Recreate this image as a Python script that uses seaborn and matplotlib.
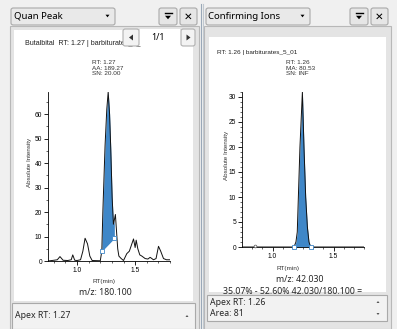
import numpy as np
import pandas as pd
import matplotlib
matplotlib.use("Agg")
import matplotlib.pyplot as plt
import seaborn as sns
from matplotlib.patches import Rectangle, FancyBboxPatch, Polygon
from matplotlib.ticker import MultipleLocator

# ---------------- data ----------------
quan_rt = [0.75, 0.80, 0.83, 0.853, 0.88, 0.92, 0.95, 0.963, 0.98, 1.00, 1.03, 1.05,
           1.069, 1.09, 1.11, 1.13, 1.20, 1.213, 1.222, 1.241, 1.256, 1.268, 1.280,
           1.290, 1.302, 1.313, 1.322, 1.330, 1.340, 1.350, 1.360, 1.38, 1.40, 1.428,
           1.45, 1.486, 1.50, 1.509, 1.523, 1.54, 1.558, 1.586, 1.61, 1.629, 1.658,
           1.68, 1.701, 1.72, 1.744, 1.77, 1.80]
quan_int = [0, 0.3, 0.5, 1.8, 0.3, 0.2, 0.5, 2.5, 0.3, 0.2, 0.5, 4,
            9.3, 7, 2, 0.2, 0.1, 4, 20, 47, 62, 69, 60,
            46, 26, 15, 17, 19, 12, 5, 2, 1, 0.2, 3,
            4, 9, 5.5, 8.5, 5, 2.5, 2, 1, 0.8, 1.5, 0.5,
            1, 6, 4, 1, 0.5, 0.5]
quan_peak_start = (1.213, 4.0)
quan_peak_end = (1.321, 9.3)

conf_rt = [0.75, 0.80, 0.854, 0.90, 1.00, 1.10, 1.15, 1.176, 1.192, 1.203, 1.212,
           1.225, 1.245, 1.258, 1.272, 1.286, 1.299, 1.313, 1.35, 1.45, 1.55, 1.65, 1.75]
conf_int = [0, 0, 0, 0, 0, 0, 0, 0, 1, 3, 10,
            20, 31, 20, 10, 4, 1, 0, 0, 0, 0, 0, 0]
conf_peak_start = (1.176, 0.0)
conf_peak_end = (1.313, 0.0)

quan_label = ["RT: 1.27", "AA: 189.27", "SN: 20.00"]
conf_label = ["RT: 1.26", "MA: 80.53", "SN: INF"]

# ---------------- figure ----------------
W, H = 397, 329
fig = plt.figure(figsize=(W / 100, H / 100), dpi=100)
fig.patch.set_facecolor("#f0f0f0")
UI = "Noto Sans"
PL = "Liberation Sans"
BLUE = "#3f87c8"


def fx(x):
    return x / W


def fy(y):
    return 1 - y / H


def rect(x0, y0, x1, y1, fc, ec="none", lw=0.8, z=1, rounded=False):
    if rounded:
        p = FancyBboxPatch((fx(x0), fy(y1)), fx(x1) - fx(x0), fy(y0) - fy(y1),
                           boxstyle="round,pad=0,rounding_size=0.006",
                           transform=fig.transFigure, fc=fc, ec=ec, lw=lw, zorder=z)
    else:
        p = Rectangle((fx(x0), fy(y1)), fx(x1) - fx(x0), fy(y0) - fy(y1),
                      transform=fig.transFigure, fc=fc, ec=ec, lw=lw, zorder=z)
    fig.add_artist(p)
    return p


def txt(x, y, s, size=6, ha="left", va="center", family=UI, z=5, **kw):
    return fig.text(fx(x), fy(y), s, fontsize=size, ha=ha, va=va, family=family, zorder=z, **kw)


def tri(cx, cy, w, h, down=True, z=6, color="black"):
    if down:
        pts = [(cx - w / 2, cy - h / 2), (cx + w / 2, cy - h / 2), (cx, cy + h / 2)]
    else:
        pts = [(cx - w / 2, cy + h / 2), (cx + w / 2, cy + h / 2), (cx, cy - h / 2)]
    fig.add_artist(Polygon([(fx(a), fy(b)) for a, b in pts], closed=True,
                           transform=fig.transFigure, fc=color, ec="none", zorder=z))


def tri_lr(cx, cy, w, h, left=True, z=6):
    if left:
        pts = [(cx + w / 2, cy - h / 2), (cx + w / 2, cy + h / 2), (cx - w / 2, cy)]
    else:
        pts = [(cx - w / 2, cy - h / 2), (cx - w / 2, cy + h / 2), (cx + w / 2, cy)]
    fig.add_artist(Polygon([(fx(a), fy(b)) for a, b in pts], closed=True,
                           transform=fig.transFigure, fc="#333333", ec="none", zorder=z))


# panel frames
rect(10, 26, 199, 329, "#e4e4e4", "#b8b8b8", z=0.5)
rect(204, 26, 391, 329, "#e4e4e4", "#b8b8b8", z=0.5)
fig.add_artist(plt.Line2D([fx(200.5), fx(200.5)], [0, fy(4)], transform=fig.transFigure,
                          color="#9aa8b8", lw=0.8, zorder=0.6))
fig.add_artist(plt.Line2D([fx(202.5), fx(202.5)], [0, fy(4)], transform=fig.transFigure,
                          color="#c0c8d0", lw=0.8, zorder=0.6))
rect(14, 30, 193, 301, "white", z=0.7)
rect(209, 37, 386, 292, "white", z=0.7)

# headers
rect(11, 8, 115, 25, "#e9e9e9", "#a9a9a9", z=2, rounded=True)
txt(13.5, 16.5, "Quan Peak", size=6.9)
tri(107.5, 16, 4, 2.6)
rect(206, 8, 310, 25, "#e9e9e9", "#a9a9a9", z=2, rounded=True)
txt(208.5, 16.5, "Confirming Ions", size=6.9)
tri(302.5, 16, 4, 2.6)

for bx in (159, 350):
    rect(bx, 8, bx + 18, 25, "#e6e6e6", "#a9a9a9", z=2, rounded=True)
    tri(bx + 9, 17.5, 6, 3.5)
    fig.add_artist(plt.Line2D([fx(bx + 5.5), fx(bx + 12.5)], [fy(13.2), fy(13.2)],
                              transform=fig.transFigure, color="black", lw=1.0, zorder=6))
for bx in (180, 371):
    rect(bx, 8, bx + 17, 25, "#e6e6e6", "#a9a9a9", z=2, rounded=True)
    txt(bx + 8.5, 16.5, "\u2715", size=7.5, ha="center", family="DejaVu Sans", weight="bold")

# plot titles
txt(25, 43.5, "Butalbital  RT: 1.27 | barbiturates_5_01", size=5.1, family=PL, z=3, color="#222222")
rect(123, 29, 139, 46, "#f3f3f3", "#b0b0b0", z=4, rounded=True)
rect(139.5, 29, 180, 46, "white", z=3.9)
tri_lr(131, 37.5, 4, 6, left=True)
txt(158, 37.5, "1/1", size=6.4, ha="center")
rect(181, 29, 195, 46, "#f3f3f3", "#b0b0b0", z=4, rounded=True)
tri_lr(188.5, 37.5, 4, 6, left=False)
txt(217, 52.5, "RT: 1.26 | barbiturates_5_01", size=4.6, family=PL, color="#222222")

# ---------------- axes ----------------
def make_ax(x0, x1, y0, y1):
    ax = fig.add_axes([fx(x0), fy(y1), fx(x1) - fx(x0), fy(y0) - fy(y1)])
    ax.set_zorder(3)
    return ax


sns.set_style("ticks")
axL = make_ax(48, 170, 92, 261)
axR = make_ax(242, 364, 92, 247)

dfL = pd.DataFrame({"rt": quan_rt, "int": quan_int})
dfR = pd.DataFrame({"rt": conf_rt, "int": conf_int})

rtL = np.array(quan_rt)
inL = np.array(quan_int)
mask = (rtL >= quan_peak_start[0]) & (rtL <= quan_peak_end[0])
xs = np.concatenate([[quan_peak_start[0]], rtL[mask], [quan_peak_end[0]]])
top = np.interp(xs, rtL, inL)
base = np.interp(xs, [quan_peak_start[0], quan_peak_end[0]], [quan_peak_start[1], quan_peak_end[1]])
axL.fill_between(xs, base, top, color=BLUE, lw=0, zorder=1)
axL.plot([quan_peak_start[0], quan_peak_end[0]], [quan_peak_start[1], quan_peak_end[1]],
         color=BLUE, lw=0.5, zorder=1)
sns.lineplot(data=dfL, x="rt", y="int", ax=axL, color="#111111", lw=0.7, zorder=2)
axL.plot([quan_peak_start[0], quan_peak_end[0]], [quan_peak_start[1], quan_peak_end[1]],
         ls="none", marker="s", ms=3.0, mfc="white", mec=BLUE, mew=0.6, zorder=3, clip_on=False)

rtR = np.array(conf_rt)
inR = np.array(conf_int)
m2 = (rtR >= conf_peak_start[0]) & (rtR <= conf_peak_end[0])
axR.fill_between(rtR[m2], 0, inR[m2], color=BLUE, lw=0, zorder=1)
sns.lineplot(data=dfR, x="rt", y="int", ax=axR, color="#111111", lw=0.7, zorder=2)
axR.plot([conf_peak_start[0], conf_peak_end[0]], [conf_peak_start[1], conf_peak_end[1]],
         ls="none", marker="s", ms=3.0, mfc="white", mec=BLUE, mew=0.6, zorder=3, clip_on=False)
axR.plot([0.854], [0.25], ls="none", marker="o", ms=2.0, mfc="white", mec="#555555",
         mew=0.5, zorder=3, clip_on=False)

axL.xaxis.set_major_locator(MultipleLocator(0.5))
axL.xaxis.set_minor_locator(MultipleLocator(0.1))
axL.yaxis.set_major_locator(MultipleLocator(10))
axL.yaxis.set_minor_locator(MultipleLocator(5))
axR.xaxis.set_major_locator(MultipleLocator(0.5))
axR.xaxis.set_minor_locator(MultipleLocator(0.0833333))
axR.yaxis.set_major_locator(MultipleLocator(5))
axR.yaxis.set_minor_locator(MultipleLocator(1))

for ax in (axL, axR):
    ax.patch.set_alpha(0)
    ax.set_xlabel("")
    ax.set_ylabel("")
    for s in ("top", "right"):
        ax.spines[s].set_visible(False)
    for s in ("left", "bottom"):
        ax.spines[s].set_linewidth(0.6)
        ax.spines[s].set_color("black")
    ax.tick_params(which="major", length=3, width=0.6, labelsize=4.8, pad=1.2, colors="black")
    ax.tick_params(which="minor", length=1.6, width=0.5)
    ax.xaxis.set_major_formatter(matplotlib.ticker.FormatStrFormatter("%.1f"))
    ax.yaxis.set_major_formatter(matplotlib.ticker.FormatStrFormatter("%d"))
    for lab in ax.get_xticklabels() + ax.get_yticklabels():
        lab.set_family(PL)

axL.set_xlim(0.75, 1.80)
axL.set_ylim(0, 69)
axR.set_xlim(0.75, 1.75)
axR.set_ylim(0, 31)

# axis titles
txt(29, 162, "Absolute Intensity", size=4.5, ha="center", family=PL, rotation=90, color="#333333")
txt(226.5, 155, "Absolute Intensity", size=4.5, ha="center", family=PL, rotation=90, color="#333333")
txt(104, 281, "RT(min)", size=4.6, ha="center", family=PL, color="#333333")
txt(288, 268.5, "RT(min)", size=4.6, ha="center", family=PL, color="#333333")

# peak labels
txt(92, 68, "\n".join(quan_label), size=4.6, family=PL, color="#333333", linespacing=1.05)
txt(286, 68, "\n".join(conf_label), size=4.6, family=PL, color="#333333", linespacing=1.05)

# m/z lines
txt(105, 292.5, "m/z: 180.100", size=6.3, ha="center")
txt(300, 279.5, "m/z: 42.030", size=6.3, ha="center")
txt(293, 291, "35.07% - 52.60% 42.030/180.100 =", size=6.3, ha="center")

# status boxes
rect(12, 303, 195, 329, "#f2f2f2", "#a9a9a9", z=2)
txt(15, 316, "Apex RT: 1.27", size=6.3, z=5)
tri(187, 316, 3, 2, down=False, color="#555555")
rect(207, 295, 387, 321, "#f2f2f2", "#a9a9a9", z=2)
txt(210, 302.5, "Apex RT: 1.26", size=6.3, z=5)
txt(210, 313.5, "Area: 81", size=6.3, z=5)
tri(378, 302, 3, 2, down=False, color="#555555")
tri(378, 314, 3, 2, down=True, color="#555555")

fig.savefig("out.png", dpi=100, facecolor=fig.get_facecolor())
